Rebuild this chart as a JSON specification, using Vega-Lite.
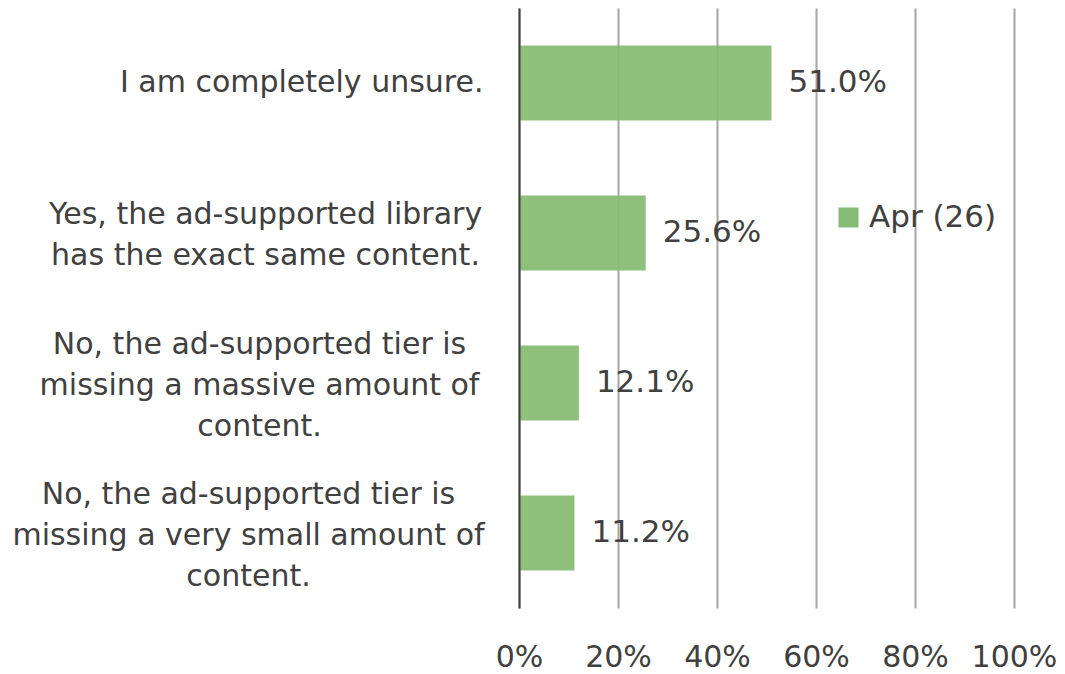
{
  "$schema": "https://vega.github.io/schema/vega-lite/v6.json",
  "width": 495,
  "height": 600,
  "autosize": "none",
  "padding": {"left": 519, "top": 8, "right": 51, "bottom": 66},
  "background": "white",
  "config": {
    "view": {"stroke": null},
    "font": "DejaVu Sans"
  },
  "data": {
    "values": [
      {"answer": "I am completely unsure.", "series": "Apr (26)", "share": 0.51},
      {"answer": "Yes, the ad-supported library|has the exact same content.", "series": "Apr (26)", "share": 0.256},
      {"answer": "No, the ad-supported tier is|missing a massive amount of|content.", "series": "Apr (26)", "share": 0.121},
      {"answer": "No, the ad-supported tier is|missing a very small amount of|content.", "series": "Apr (26)", "share": 0.112}
    ]
  },
  "encoding": {
    "y": {
      "field": "answer",
      "type": "nominal",
      "sort": null,
      "scale": {"paddingInner": 0.5, "paddingOuter": 0.25},
      "axis": {
        "title": null,
        "ticks": false,
        "grid": false,
        "domainColor": "#404040",
        "domainWidth": 2,
        "zindex": 1,
        "labelFont": "DejaVu Sans",
        "labelFontSize": 30,
        "labelColor": "#404040",
        "labelLimit": 600,
        "labelLineHeight": 41,
        "labelExpr": "split(datum.label, '|')",
        "labelAlign": {"condition": {"test": "indexof(datum.value, '|') < 0", "value": "right"}, "value": "center"},
        "labelPadding": {
          "condition": [
            {"test": "indexof(datum.value, '|') < 0", "value": 36},
            {"test": "indexof(datum.value, 'library') >= 0", "value": 254},
            {"test": "indexof(datum.value, 'massive') >= 0", "value": 260}
          ],
          "value": 271
        },
        "labelOffset": {
          "condition": [
            {"test": "indexof(datum.value, '|') < 0", "value": 0},
            {"test": "indexof(datum.value, 'library') >= 0", "value": -18}
          ],
          "value": -38
        }
      }
    },
    "x": {
      "field": "share",
      "type": "quantitative",
      "scale": {"domain": [0, 1]},
      "axis": {
        "title": null,
        "format": ".0%",
        "values": [0, 0.2, 0.4, 0.6, 0.8, 1],
        "domain": false,
        "ticks": false,
        "grid": true,
        "gridColor": "#a6a6a6",
        "gridWidth": 2,
        "labelFont": "DejaVu Sans",
        "labelFontSize": 30,
        "labelColor": "#404040",
        "labelPadding": 34,
        "labelOverlap": false,
        "labelFlush": false
      }
    }
  },
  "layer": [
    {
      "mark": {"type": "bar", "fillOpacity": 0.93},
      "encoding": {
        "color": {
          "field": "series",
          "type": "nominal",
          "scale": {"range": ["#85bb72"]},
          "legend": {
            "title": null,
            "orient": "none",
            "legendX": 314,
            "legendY": 194,
            "padding": 0,
            "symbolType": "square",
            "symbolSize": 400,
            "symbolStrokeWidth": 0,
            "symbolOpacity": 1,
            "labelFont": "DejaVu Sans",
            "labelFontSize": 31,
            "labelColor": "#404040",
            "labelOffset": 5
          }
        }
      }
    },
    {
      "mark": {"type": "text", "align": "left", "baseline": "middle", "dx": 17, "font": "DejaVu Sans", "fontSize": 31, "color": "#404040"},
      "encoding": {
        "text": {"field": "share", "type": "quantitative", "format": ".1%"}
      }
    }
  ]
}
